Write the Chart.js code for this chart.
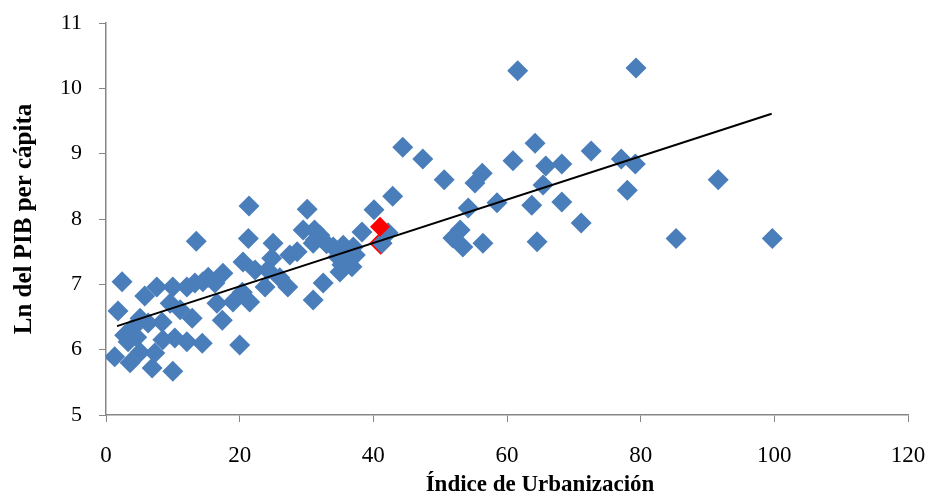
<!DOCTYPE html>
<html>
<head>
<meta charset="utf-8">
<script src="https://cdn.jsdelivr.net/npm/chart.js@4.4.0/dist/chart.umd.min.js"></script>
<style>
  html, body { margin: 0; padding: 0; background: #fff; }
</style>
</head>
<body>
<canvas id="urbChart" width="931" height="499"></canvas>
<script>
// Índice de urbanización (%) y logaritmo del PIB per cápita por país
const urbanizacion = [
  1.3, 1.8, 2.4, 2.8, 3.3, 3.6, 4.0, 4.6, 5.1, 5.1, 5.8, 6.3, 6.9, 7.3, 7.6, 8.4, 8.5, 9.6, 10.0, 10.0,
  10.3, 11.1, 12.1, 12.1, 12.9, 13.3, 13.5, 14.4, 14.5, 15.3, 16.3, 16.6, 17.4, 17.5, 19.0, 20.0, 20.4, 20.5, 21.3, 21.4,
  21.5, 22.3, 23.8, 24.2, 24.8, 25.0, 26.0, 27.2, 27.5, 28.6, 29.5, 30.1, 31.0, 31.0, 31.2, 31.3, 32.0, 32.5, 33.0, 34.0,
  34.7, 35.0, 35.3, 35.5, 36.2, 36.8, 37.0, 37.3, 38.3, 40.1, 41.3, 42.2, 42.9, 44.4, 47.4, 50.6, 51.9, 53.0, 53.4, 54.2,
  55.2, 56.3, 56.4, 58.5, 60.9, 61.6, 63.7, 64.2, 64.5, 65.4, 65.8, 68.2, 68.2, 71.1, 72.6, 77.1, 78.0, 79.2, 79.3, 85.3,
  91.6, 99.7
];
const lnPib = [
  5.89, 6.59, 7.04, 6.22, 6.12, 5.80, 6.33, 6.19, 6.48, 5.96, 6.82, 6.41, 5.72, 5.95, 6.96, 6.42, 6.15, 6.71, 6.96, 5.67,
  6.18, 6.61, 6.96, 6.12, 6.48, 7.02, 7.66, 6.10, 7.04, 7.11, 7.02, 6.71, 6.45, 7.17, 6.73, 6.07, 6.88, 7.34, 7.70, 8.20,
  6.73, 7.22, 6.96, 7.22, 7.40, 7.63, 7.10, 6.96, 7.45, 7.50, 7.83, 8.15, 7.63, 6.76, 7.83, 7.68, 7.75, 7.02, 7.62, 7.57,
  7.42, 7.19, 7.30, 7.60, 7.42, 7.27, 7.57, 7.45, 7.80, 8.14, 7.63, 7.79, 8.35, 9.10, 8.92, 8.60, 7.71, 7.83, 7.57, 8.17,
  8.55, 8.70, 7.63, 8.25, 8.89, 10.27, 8.21, 9.16, 7.65, 8.52, 8.81, 8.84, 8.26, 7.94, 9.04, 8.92, 8.44, 8.84, 10.31, 7.70,
  8.60, 7.70
];

// país resaltado en rojo (y el que queda debajo de los marcadores azules)
const destacadoX = [41.0];
const destacadoY = [7.88];
const destacadoBajoX = [41.1];
const destacadoBajoY = [7.63];

// extremos de la recta de tendencia lineal
const tendenciaX = [1.65, 99.6];
const tendenciaY = [6.36, 9.61];

const xTicks = [0, 20, 40, 60, 80, 100, 120];
const yTicks = [5, 6, 7, 8, 9, 10, 11];

const pares = (xs, ys) => xs.map((x, i) => ({ x: x, y: ys[i] }));

const fuente = 'Liberation Serif';
const gris = '#868686';

// título del eje X desplazado a la derecha, como en el gráfico original
const tituloX = {
  id: 'tituloX',
  afterDraw(chart) {
    const ctx = chart.ctx;
    const area = chart.chartArea;
    ctx.save();
    ctx.font = 'bold 23px "' + fuente + '"';
    ctx.fillStyle = '#000';
    ctx.textAlign = 'center';
    ctx.textBaseline = 'middle';
    ctx.fillText('Índice de Urbanización', (area.left + area.right) / 2 + 33, chart.height - 14);
    ctx.restore();
  }
};

new Chart(document.getElementById('urbChart'), {
  type: 'scatter',
  data: {
    datasets: [
      {
        label: 'Tendencia',
        data: pares(tendenciaX, tendenciaY),
        showLine: true,
        borderColor: '#000',
        borderWidth: 2,
        pointRadius: 0
      },
      {
        label: 'Destacado',
        data: pares(destacadoX, destacadoY),
        pointStyle: 'rectRot',
        pointRadius: 10,
        backgroundColor: '#FF0000',
        borderColor: '#FF0000',
        borderWidth: 0
      },
      {
        label: 'Países',
        data: pares(urbanizacion, lnPib),
        pointStyle: 'rectRot',
        pointRadius: 10.5,
        backgroundColor: '#4A7EBB',
        borderColor: '#4A7EBB',
        borderWidth: 0
      },
      {
        label: 'Destacado (fondo)',
        data: pares(destacadoBajoX, destacadoBajoY),
        pointStyle: 'rectRot',
        pointRadius: 11.5,
        backgroundColor: '#FF0000',
        borderColor: '#FF0000',
        borderWidth: 0
      }
    ]
  },
  options: {
    responsive: false,
    animation: false,
    layout: { padding: { top: 23, right: 23, left: 0, bottom: 0 } },
    plugins: {
      legend: { display: false },
      tooltip: { enabled: false }
    },
    scales: {
      x: {
        type: 'linear',
        min: 0,
        max: 120,
        afterBuildTicks: scale => { scale.ticks = xTicks.map(v => ({ value: v })); },
        afterFit: scale => {
          scale.height = 84;
          scale.paddingLeft = 0;
          scale.paddingRight = 0;
        },
        grid: { drawOnChartArea: false, tickLength: 7, color: gris },
        border: { color: gris, width: 1.5 },
        ticks: { color: '#000', padding: 20, font: { family: fuente, size: 23 } },
        title: { display: false }
      },
      y: {
        min: 5,
        max: 11,
        afterBuildTicks: scale => { scale.ticks = yTicks.map(v => ({ value: v })); },
        afterFit: scale => {
          scale.width = 106;
          scale.paddingTop = 0;
          scale.paddingBottom = 0;
        },
        grid: { drawOnChartArea: false, tickLength: 7, color: gris },
        border: { color: gris, width: 1.5 },
        ticks: { color: '#000', padding: 17, font: { family: fuente, size: 22 } },
        title: {
          display: true,
          text: 'Ln del PIB per cápita',
          color: '#000',
          padding: { top: 10, bottom: 0 },
          font: { family: fuente, size: 25, weight: 'bold' }
        }
      }
    }
  },
  plugins: [tituloX]
});
</script>
</body>
</html>
